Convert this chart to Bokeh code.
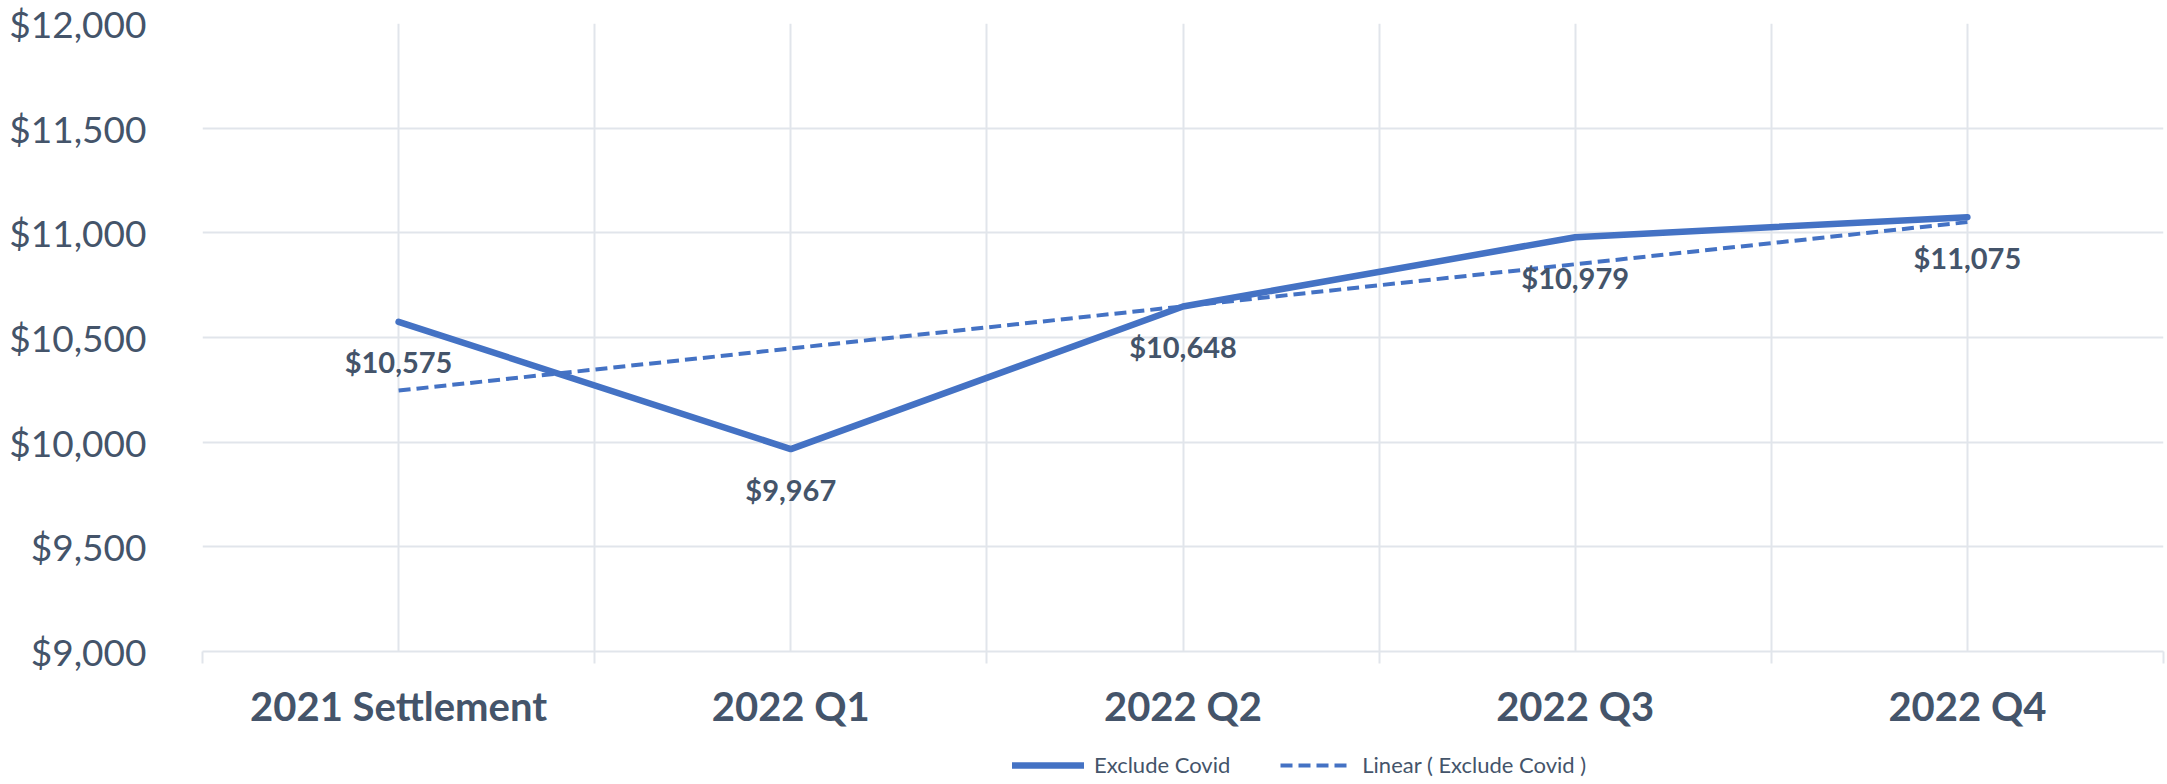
import numpy as np
from bokeh.plotting import figure
from bokeh.layouts import column
from bokeh.models import (ColumnDataSource, FixedTicker, NumeralTickFormatter, LabelSet,
                          Legend, LegendItem, Range1d)
from bokeh.core.properties import value
from bokeh.embed import file_html
from bokeh.resources import INLINE

# ---- data ----
categories = ["2021 Settlement", "2022 Q1", "2022 Q2", "2022 Q3", "2022 Q4"]
exclude_covid = [10575, 9967, 10648, 10979, 11075]
y_ticks = [9000, 9500, 10000, 10500, 11000, 11500, 12000]
series_names = ["Exclude Covid", "Linear ( Exclude Covid )"]

BLUE = "#4472C4"
TEXT = "#44546A"
GRID = "#E1E5EB"
FONT = "Lato"

n = len(categories)
xs = [i + 0.5 for i in range(n)]
# linear trendline (least squares) of the series
coef = np.polyfit(np.arange(1, n + 1), exclude_covid, 1)
trend = list(np.polyval(coef, np.arange(1, n + 1)))

src = ColumnDataSource(dict(
    x=xs, y=exclude_covid, trend=trend,
    lab=["${:,}".format(v) for v in exclude_covid],
))

p = figure(width=2165, height=737, output_backend="svg", toolbar_location=None,
           x_range=Range1d(0, n), y_range=Range1d(y_ticks[0], y_ticks[-1]),
           min_border_left=202, min_border_top=23, min_border_right=2, min_border_bottom=86)
p.outline_line_color = None
p.background_fill_color = "white"

solid_kw = dict(line_color=BLUE, line_width=6.5, line_cap="round", line_join="round")
dash_kw = dict(line_color=BLUE, line_width=4, line_dash="12 6")
p.line("x", "y", source=src, **solid_kw)
p.line("x", "trend", source=src, **dash_kw)

# data labels
labels = LabelSet(x="x", y="y", text="lab", source=src, y_offset=-40,
                  text_align="center", text_baseline="middle",
                  text_font=value(FONT), text_font_size=value("29px"), text_font_style="bold",
                  text_color=TEXT)
p.add_layout(labels)

# axes
p.yaxis.ticker = FixedTicker(ticks=y_ticks)
p.yaxis.formatter = NumeralTickFormatter(format="$0,0")
p.yaxis.axis_line_color = None
p.yaxis.major_tick_line_color = None
p.yaxis.minor_tick_line_color = None
p.yaxis.major_label_text_font = FONT
p.yaxis.major_label_text_font_size = "37px"
p.yaxis.major_label_text_color = TEXT
p.yaxis.major_label_standoff = 50

bounds = [float(i) for i in range(n + 1)]
p.xaxis.ticker = FixedTicker(ticks=xs, minor_ticks=bounds)
p.xaxis.major_label_overrides = {x: c for x, c in zip(xs, categories)}
p.xaxis.axis_line_color = GRID
p.xaxis.axis_line_width = 2
p.xaxis.major_tick_line_color = None
p.xaxis.minor_tick_line_color = GRID
p.xaxis.minor_tick_line_width = 2
p.xaxis.minor_tick_out = 12
p.xaxis.minor_tick_in = 0
p.xaxis.major_label_text_font = FONT
p.xaxis.major_label_text_font_size = "40px"
p.xaxis.major_label_text_font_style = "bold"
p.xaxis.major_label_text_color = TEXT
p.xaxis.major_label_standoff = 18

# grids
p.xgrid.ticker = FixedTicker(ticks=sorted(bounds + xs))
p.xgrid.grid_line_color = GRID
p.xgrid.grid_line_width = 2
p.ygrid.ticker = FixedTicker(ticks=y_ticks)
p.ygrid.grid_line_color = GRID
p.ygrid.grid_line_width = 2

# ---- legend strip (separate small figure below the chart) ----
# the same series are drawn here, but fall outside this strip's ranges, so only the legend shows
lg = figure(width=2165, height=41, output_backend="svg", toolbar_location=None,
            x_range=Range1d(0, 1), y_range=Range1d(0, 1),
            x_axis_type=None, y_axis_type=None,
            min_border_left=0, min_border_right=0, min_border_top=0, min_border_bottom=0)
lg.outline_line_color = None
lg.grid.visible = False
r1 = lg.line("x", "y", source=src, **solid_kw)
r2 = lg.line("x", "trend", source=src, **dash_kw)
legend = Legend(items=[LegendItem(label=series_names[0], renderers=[r1]),
                       LegendItem(label=series_names[1], renderers=[r2])],
                orientation="horizontal", location=(810, 0),
                glyph_width=72, glyph_height=22, label_standoff=10, spacing=50,
                label_text_font=FONT, label_text_font_size="22px", label_text_color=TEXT,
                border_line_color=None, background_fill_alpha=0, padding=0, margin=0)
lg.add_layout(legend, "center")

open("out.html", "w").write(file_html(column(p, lg, spacing=0), INLINE))
